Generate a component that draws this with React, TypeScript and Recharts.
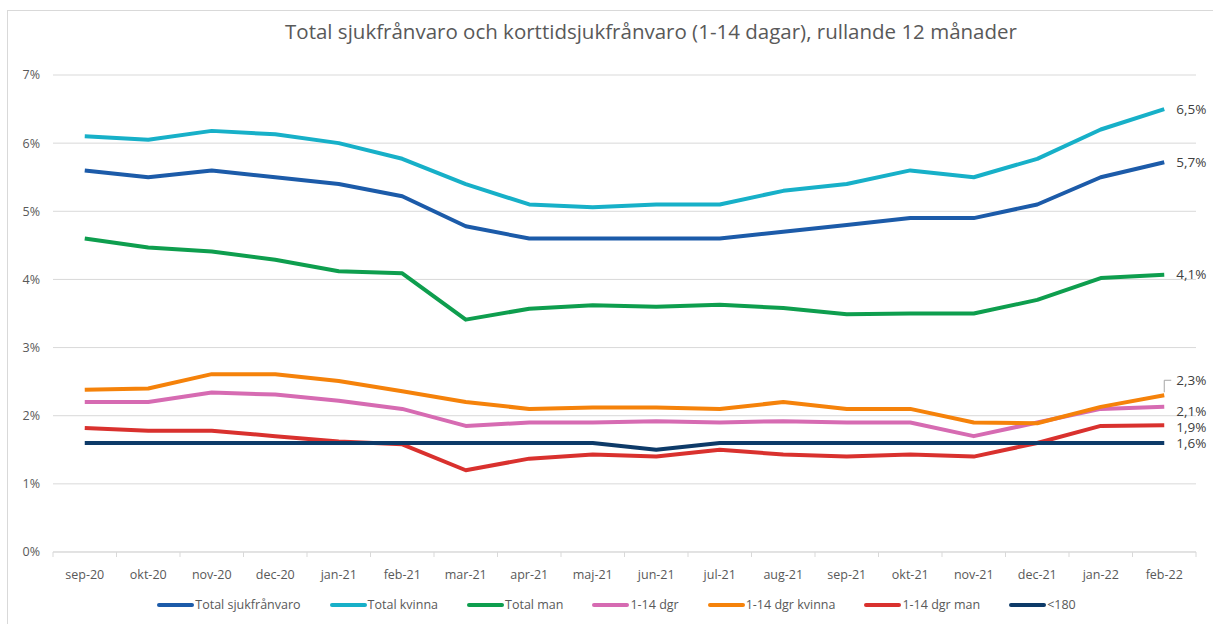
import { CartesianGrid, Legend, Line, LineChart, XAxis, YAxis } from 'recharts';

const months = [
  'sep-20', 'okt-20', 'nov-20', 'dec-20', 'jan-21', 'feb-21', 'mar-21', 'apr-21', 'maj-21',
  'jun-21', 'jul-21', 'aug-21', 'sep-21', 'okt-21', 'nov-21', 'dec-21', 'jan-22', 'feb-22',
];

const totalSjuk = [5.6, 5.5, 5.6, 5.5, 5.4, 5.22, 4.78, 4.6, 4.6, 4.6, 4.6, 4.7, 4.8, 4.9, 4.9, 5.1, 5.5, 5.72];
const totalKvinna = [6.1, 6.05, 6.18, 6.13, 6.0, 5.77, 5.4, 5.1, 5.06, 5.1, 5.1, 5.3, 5.4, 5.6, 5.5, 5.77, 6.2, 6.5];
const totalMan = [4.6, 4.47, 4.41, 4.29, 4.12, 4.09, 3.41, 3.57, 3.62, 3.6, 3.63, 3.58, 3.49, 3.5, 3.5, 3.7, 4.02, 4.07];
const kort = [2.2, 2.2, 2.34, 2.31, 2.22, 2.1, 1.85, 1.9, 1.9, 1.92, 1.9, 1.92, 1.9, 1.9, 1.7, 1.9, 2.1, 2.13];
const kortKvinna = [2.38, 2.4, 2.61, 2.61, 2.51, 2.36, 2.2, 2.1, 2.12, 2.12, 2.1, 2.2, 2.1, 2.1, 1.9, 1.89, 2.13, 2.3];
const kortMan = [1.82, 1.78, 1.78, 1.7, 1.62, 1.58, 1.2, 1.37, 1.43, 1.4, 1.5, 1.43, 1.4, 1.43, 1.4, 1.6, 1.85, 1.86];
const under180 = [1.6, 1.6, 1.6, 1.6, 1.6, 1.6, 1.6, 1.6, 1.6, 1.5, 1.6, 1.6, 1.6, 1.6, 1.6, 1.6, 1.6, 1.6];

const yTicks = [0, 1, 2, 3, 4, 5, 6, 7];

const data = months.map((m, i) => ({
  month: m,
  total: totalSjuk[i],
  kvinna: totalKvinna[i],
  man: totalMan[i],
  kort: kort[i],
  kortKvinna: kortKvinna[i],
  kortMan: kortMan[i],
  u180: under180[i],
}));

const FONT = '"Open Sans", sans-serif';
const TEXT = '#595959';
const HALF_BAND = 31.75;

const fmt = (v: number) => v.toFixed(1).replace('.', ',') + '%';

function makeEndLabel(dy: number, leader = false) {
  return (props: any) => {
    const { x, y, index, value } = props;
    if (index !== months.length - 1) return null;
    return (
      <g>
        {leader && (
          <polyline
            points={`${x},${y - 3} ${x},${y + dy} ${x + 7},${y + dy}`}
            fill="none"
            stroke="#a6a6a6"
            strokeWidth={1}
          />
        )}
        <text x={x + 12} y={y + dy} dy="0.35em" fontSize={13.5} fill="#404040" fontFamily={FONT}>
          {fmt(value)}
        </text>
      </g>
    );
  };
}

const MonthTick = (props: any) => {
  const { x, y, payload, index } = props;
  const axisY = y - 8;
  return (
    <g>
      {index === 0 && <line x1={x - HALF_BAND} x2={x - HALF_BAND} y1={axisY} y2={axisY + 5} stroke="#d9d9d9" />}
      <line x1={x + HALF_BAND} x2={x + HALF_BAND} y1={axisY} y2={axisY + 5} stroke="#d9d9d9" />
      <text x={x} y={y + 19} textAnchor="middle" fontSize={12.5} fill={TEXT} fontFamily={FONT}>
        {payload.value}
      </text>
    </g>
  );
};

const series = [
  { key: 'total', name: 'Total sjukfrånvaro', color: '#1C5BA9', dy: 0 },
  { key: 'kvinna', name: 'Total kvinna', color: '#17B0C8', dy: 0 },
  { key: 'man', name: 'Total man', color: '#0E9E4E', dy: 0 },
  { key: 'kort', name: '1-14 dgr', color: '#D66BB2', dy: 4 },
  { key: 'kortKvinna', name: '1-14 dgr kvinna', color: '#F5820A', dy: -15 },
  { key: 'kortMan', name: '1-14 dgr man', color: '#D9312E', dy: 2 },
  { key: 'u180', name: '<180', color: '#0D3A68', dy: 0 },
];

const LegendContent = (props: any) => {
  const { payload } = props;
  const ordered = series
    .map((s) => payload.find((p: any) => p.value === s.name))
    .filter(Boolean);
  return (
    <div style={{ display: 'flex', justifyContent: 'center', gap: 29, paddingLeft: 20, fontFamily: FONT, fontSize: 12.5, color: TEXT }}>
      {ordered.map((p: any) => (
        <div key={p.value} style={{ display: 'flex', alignItems: 'center' }}>
          <span style={{ display: 'inline-block', width: 37, height: 4, background: p.color, borderRadius: 2, marginRight: 1 }} />
          <span>{p.value}</span>
        </div>
      ))}
    </div>
  );
};

export default function App() {
  return (
    <div style={{ position: 'absolute', left: 0, top: 0, width: 1213, height: 624, background: '#fff', overflow: 'hidden' }}>
      <div
        style={{
          position: 'absolute',
          left: 7,
          top: 10,
          width: 1220,
          height: 640,
          border: '1px solid #d9d9d9',
        }}
      />
      <div
        style={{
          position: 'absolute',
          left: 0,
          top: 17,
          width: 1302,
          textAlign: 'center',
          fontFamily: FONT,
          fontSize: 20.5,
          color: TEXT,
        }}
      >
        Total sjukfrånvaro och korttidsjukfrånvaro (1-14 dagar), rullande 12 månader
      </div>
      <div style={{ position: 'absolute', left: 0, top: 0 }}>
        <LineChart width={1213} height={624} data={data} margin={{ top: 75, right: 17, bottom: 22, left: 8 }}>
          <CartesianGrid vertical={false} stroke="#d9d9d9" />
          <XAxis
            dataKey="month"
            interval={0}
            padding={{ left: HALF_BAND, right: HALF_BAND }}
            tickLine={false}
            axisLine={{ stroke: '#d9d9d9' }}
            tick={<MonthTick />}
            height={30}
          />
          <YAxis
            domain={[0, 7]}
            ticks={yTicks}
            tickFormatter={(v: number) => `${v}%`}
            axisLine={false}
            tickLine={false}
            tickMargin={7}
            width={45}
            tick={{ fontSize: 12.5, fill: TEXT, fontFamily: FONT }}
          />
          <Legend content={<LegendContent />} height={20} wrapperStyle={{ top: 596, left: 0, width: 1213 }} />
          {series.map((s) => (
            <Line
              key={s.key}
              dataKey={s.key}
              name={s.name}
              stroke={s.color}
              strokeWidth={4}
              dot={false}
              activeDot={false}
              strokeLinejoin="round"
              isAnimationActive={false}
              label={makeEndLabel(s.dy, s.key === 'kortKvinna')}
            />
          ))}
        </LineChart>
      </div>
    </div>
  );
}
